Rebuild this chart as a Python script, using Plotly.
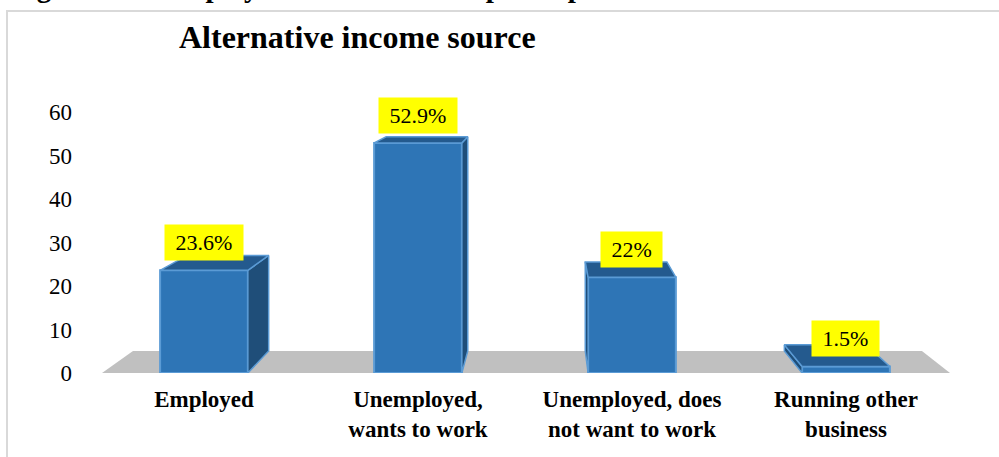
import plotly.graph_objects as go

# ---------------- data ----------------
categories = ["Employed", "Unemployed,<br>wants to work", "Unemployed, does<br>not want to work", "Running other<br>business"]
values = [23.6, 52.9, 22.0, 1.5]
value_labels = ["23.6%", "52.9%", "22%", "1.5%"]
y_ticks = [0, 10, 20, 30, 40, 50, 60]
title_text = "Alternative income source"
caption_text = "Figure 4: Unemployment status of the participants"

# ---------------- layout geometry ----------------
W, H = 999, 457
ML, MR, MT, MB = 85, 0, 50, 84
PW, PH = W - ML - MR, H - MT - MB
X0, X1 = -0.556, 3.715
Y0, Y1 = 0.0, 74.25
BAR_W = 0.41

FONT = "Liberation Serif, Times New Roman, serif"
FRONT = "#2E75B6"
EDGE = "#5B9BD5"
SIDE = "#1F4E79"
TOP = "#245A8E"
FLOOR = "#C0C0C0"

# perspective (pixel space)
VX, VY, S = 547.0, 56.0, 0.0696


def xpx(x):
    return ML + (x - X0) / (X1 - X0) * PW


def ypx(y):
    return MT + PH - (y - Y0) / (Y1 - Y0) * PH


def xdat(px):
    return X0 + (px - ML) / PW * (X1 - X0)


def ydat(py):
    return Y0 + (MT + PH - py) / PH * (Y1 - Y0)


def back(x, y):
    """project a front point (data) to the back plane (data)"""
    px, py = xpx(x), ypx(y)
    return xdat(px + S * (VX - px)), ydat(py + S * (VY - py))


def paper_x(px):
    return (px - ML) / PW


def paper_y(py):
    return (MT + PH - py) / PH


fig = go.Figure()

# faces of each bar (side + top), computed from the values
for i, v in enumerate(values):
    xl, xr = i - BAR_W / 2, i + BAR_W / 2
    ex = xr if xpx(xr) < VX else xl
    b_top = back(ex, v)
    b_bot = back(ex, 0)
    fig.add_trace(go.Scatter(
        x=[ex, b_top[0], b_bot[0], ex, ex],
        y=[v, b_top[1], b_bot[1], 0, v],
        mode="lines", fill="toself", fillcolor=SIDE,
        line=dict(color=EDGE, width=1.5), hoverinfo="skip", showlegend=False))
    bl = back(xl, v)
    br = back(xr, v)
    fig.add_trace(go.Scatter(
        x=[xl, xr, br[0], bl[0], xl],
        y=[v, v, br[1], bl[1], v],
        mode="lines", fill="toself", fillcolor=TOP,
        line=dict(color=EDGE, width=1.5), hoverinfo="skip", showlegend=False))

# front faces
fig.add_trace(go.Bar(
    x=list(range(len(values))), y=values, width=BAR_W,
    marker=dict(color=FRONT, line=dict(color=EDGE, width=2)),
    hoverinfo="skip", showlegend=False))

# floor
fl, fr = xdat(102), xdat(950)
bfl, bfr = back(fl, 0), back(fr, 0)
floor_path = f"M {fl},0 L {fr},0 L {bfr[0]},{bfr[1]} L {bfl[0]},{bfl[1]} Z"
shapes = [
    dict(type="path", path=floor_path, xref="x", yref="y",
         fillcolor=FLOOR, line=dict(width=0), layer="below"),
    dict(type="rect", xref="paper", yref="paper",
         x0=paper_x(7), x1=paper_x(1010), y0=paper_y(11), y1=paper_y(470),
         line=dict(color="#D9D9D9", width=2), fillcolor="rgba(0,0,0,0)", layer="below"),
]

annotations = []
char_w = {".": 5.5, "%": 18.3}
for i, (v, lab) in enumerate(zip(values, value_labels)):
    tw = sum(char_w.get(c, 11.0) for c in lab)
    annotations.append(dict(
        x=i, y=v, xref="x", yref="y", text=lab, showarrow=False,
        yanchor="bottom", xanchor="center", yshift=9,
        bgcolor="#FFFF00", borderpad=4, width=tw + 13, height=27,
        font=dict(family=FONT, size=22, color="black")))

annotations.append(dict(
    x=paper_x(357), y=paper_y(37), xref="paper", yref="paper",
    text="<b>" + title_text + "</b>", showarrow=False,
    xanchor="center", yanchor="middle",
    font=dict(family=FONT, size=32, color="black")))

annotations.append(dict(
    x=paper_x(9), y=paper_y(-13), xref="paper", yref="paper",
    text="<b>" + caption_text + "</b>", showarrow=False,
    xanchor="left", yanchor="middle",
    font=dict(family=FONT, size=29, color="black")))

fig.update_layout(
    width=W, height=H,
    margin=dict(l=ML, r=MR, t=MT, b=MB, pad=0),
    paper_bgcolor="white", plot_bgcolor="white",
    shapes=shapes, annotations=annotations,
    xaxis=dict(range=[X0, X1], tickvals=list(range(len(categories))),
               ticktext=["<b>" + c + "</b>" for c in categories],
               showgrid=False, zeroline=False, showline=False, ticks="",
               ticklabelstandoff=10,
               tickfont=dict(family=FONT, size=23, color="black")),
    yaxis=dict(range=[Y0, Y1], tickvals=y_ticks, showgrid=False, zeroline=False,
               showline=False, ticks="", ticklabelstandoff=12,
               tickfont=dict(family=FONT, size=23, color="black")),
)

fig.write_html("out.html")
